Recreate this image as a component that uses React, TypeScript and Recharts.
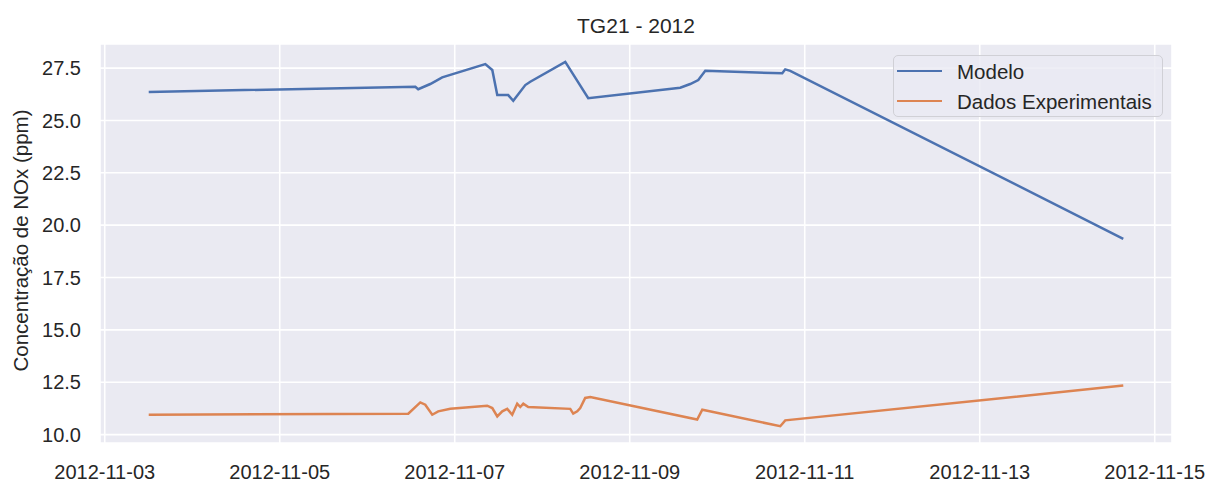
import React from 'react';
import { LineChart, Line, XAxis, YAxis, CartesianGrid, Legend, Label } from 'recharts';

// Modelo (model output), NOx in ppm
const modelTimes = [
  '2012-11-03T12:04', '2012-11-06T13:11', '2012-11-06T13:59', '2012-11-06T17:17',
  '2012-11-06T20:34', '2012-11-07T08:23', '2012-11-07T10:18', '2012-11-07T11:40',
  '2012-11-07T14:40', '2012-11-07T16:03', '2012-11-07T19:21', '2012-11-07T20:43',
  '2012-11-08T06:19', '2012-11-08T12:37', '2012-11-09T13:51', '2012-11-09T16:35',
  '2012-11-09T18:48', '2012-11-09T20:43', '2012-11-10T17:50', '2012-11-10T18:39',
  '2012-11-10T20:01', '2012-11-14T15:22',
];
const modelValues = [
  26.36, 26.61, 26.49, 26.74,
  27.06, 27.69, 27.41, 26.21,
  26.21, 25.94, 26.69, 26.85,
  27.80, 26.06, 26.56, 26.74,
  26.93, 27.37, 27.25, 27.44,
  27.37, 19.35,
];

// Dados Experimentais (measured), NOx in ppm
const expTimes = [
  '2012-11-03T12:04', '2012-11-06T11:15', '2012-11-06T14:33', '2012-11-06T15:55',
  '2012-11-06T17:50', '2012-11-06T19:28', '2012-11-06T22:47', '2012-11-07T08:54',
  '2012-11-07T10:18', '2012-11-07T11:40', '2012-11-07T13:02', '2012-11-07T14:24',
  '2012-11-07T15:46', '2012-11-07T17:08', '2012-11-07T17:59', '2012-11-07T18:48',
  '2012-11-07T20:10', '2012-11-08T07:41', '2012-11-08T08:30', '2012-11-08T09:36',
  '2012-11-08T10:25', '2012-11-08T11:47', '2012-11-08T13:11', '2012-11-09T18:30',
  '2012-11-09T19:54', '2012-11-09T21:16', '2012-11-10T17:17', '2012-11-10T18:39',
  '2012-11-14T15:22',
];
const expValues = [
  10.95, 11.0, 11.54, 11.43,
  10.95, 11.11, 11.23, 11.38,
  11.27, 10.87, 11.11, 11.23,
  10.95, 11.48, 11.32, 11.48,
  11.32, 11.23, 11.0, 11.11,
  11.27, 11.75, 11.8, 10.72,
  11.19, 11.14, 10.4, 10.68,
  12.34,
];

const seriesNames = ['Modelo', 'Dados Experimentais'];
const seriesColors = ['#4c72b0', '#dd8452'];

const xTickDates = ['2012-11-03', '2012-11-05', '2012-11-07', '2012-11-09', '2012-11-11', '2012-11-13', '2012-11-15'];
const yTicks = [10, 12.5, 15, 17.5, 20, 22.5, 25, 27.5];
const yDomain: [number, number] = [9.6, 28.65];

const chartTitle = 'TG21 - 2012';
const yAxisTitle = 'Concentração de NOx (ppm)';

const toMs = (s: string) => Date.parse(s + 'Z');

const modelData = modelTimes.map((t, i) => ({ t: toMs(t), v: modelValues[i] }));
const expData = expTimes.map((t, i) => ({ t: toMs(t), v: expValues[i] }));
const xTicks = xTickDates.map((d) => toMs(d + 'T00:00'));

// 5% padding on each side of the time range
const allT = [...modelData, ...expData].map((p) => p.t);
const tMin = Math.min(...allT);
const tMax = Math.max(...allT);
const tPad = (tMax - tMin) * 0.05;
const xDomain: [number, number] = [tMin - tPad, tMax + tPad];

const FONT = '"Liberation Sans", Arial, Helvetica, sans-serif';
const TEXT = '#262626';

const fmtDate = (ms: number) => new Date(ms).toISOString().slice(0, 10);

const LegendBox = (props: any) => {
  const payload = [...(props.payload || [])].sort(
    (a: any, b: any) => seriesNames.indexOf(a.value) - seriesNames.indexOf(b.value)
  );
  return (
    <div
      style={{
        boxSizing: 'border-box',
        width: 270,
        height: 62,
        border: '1px solid #d0d0d6',
        borderRadius: 5,
        background: 'rgba(234,234,242,0.8)',
        fontFamily: FONT,
        fontSize: 20.5,
        color: TEXT,
      }}
    >
      {payload.map((p: any) => (
        <div key={p.value} style={{ display: 'flex', alignItems: 'center', height: 30 }}>
          <span
            style={{
              display: 'inline-block',
              width: 45,
              marginLeft: 3,
              borderTop: `2.5px solid ${p.color}`,
            }}
          />
          <span style={{ marginLeft: 15, lineHeight: '21px', whiteSpace: 'nowrap' }}>{p.value}</span>
        </div>
      ))}
    </div>
  );
};

const YTitle = (props: any) => {
  const vb = props.viewBox || { x: 0, y: 0, width: 0, height: 0 };
  const cx = vb.x + 12;
  const cy = vb.y + vb.height / 2 - 3;
  return (
    <text
      x={cx}
      y={cy}
      transform={`rotate(-90, ${cx}, ${cy})`}
      textAnchor="middle"
      dominantBaseline="central"
      fontFamily={FONT}
      fontSize={20.5}
      fill={TEXT}
    >
      {yAxisTitle}
    </text>
  );
};

export default function App() {
  return (
    <div style={{ position: 'relative', width: 1200, height: 474 }}>
      <div
        style={{
          position: 'absolute',
          left: 92,
          width: 1072,
          top: 7,
          textAlign: 'center',
          fontFamily: FONT,
          fontSize: 21,
          lineHeight: '21px',
          color: TEXT,
          zIndex: 2,
        }}
      >
        {chartTitle}
      </div>
      <LineChart width={1200} height={474} margin={{ top: 36, right: 36, bottom: 0, left: 0 }}>
        <CartesianGrid fill="#eaeaf2" stroke="#ffffff" strokeWidth={1.6} />
        <XAxis
          dataKey="t"
          type="number"
          domain={xDomain}
          ticks={xTicks}
          allowDataOverflow
          tickFormatter={fmtDate}
          axisLine={false}
          tickLine={false}
          tickSize={0}
          tickMargin={22}
          height={39}
          interval={0}
          tick={{ fontFamily: FONT, fontSize: 20, fill: TEXT }}
        />
        <YAxis
          type="number"
          domain={yDomain}
          ticks={yTicks}
          allowDataOverflow
          tickFormatter={(v: number) => v.toFixed(1)}
          axisLine={false}
          tickLine={false}
          tickSize={0}
          tickMargin={19}
          width={92}
          interval={0}
          tick={{ fontFamily: FONT, fontSize: 20, fill: TEXT }}
        >
          <Label content={YTitle} />
        </YAxis>
        <Legend
          layout="vertical"
          align="center"
          verticalAlign="middle"
          wrapperStyle={{ left: 885, top: 47, width: 270, height: 62 }}
          content={LegendBox}
        />
        <Line
          data={modelData}
          dataKey="v"
          name={seriesNames[0]}
          type="linear"
          stroke={seriesColors[0]}
          strokeWidth={2.5}
          dot={false}
          activeDot={false}
          isAnimationActive={false}
        />
        <Line
          data={expData}
          dataKey="v"
          name={seriesNames[1]}
          type="linear"
          stroke={seriesColors[1]}
          strokeWidth={2.5}
          dot={false}
          activeDot={false}
          isAnimationActive={false}
        />
      </LineChart>
    </div>
  );
}
